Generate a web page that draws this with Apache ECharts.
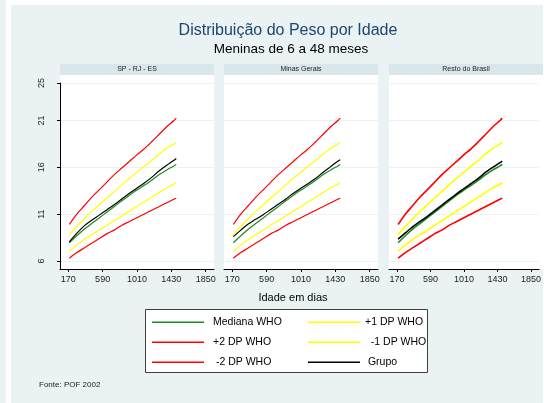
<!DOCTYPE html>
<html>
<head>
<meta charset="utf-8">
<script src="https://cdn.jsdelivr.net/npm/echarts@6/dist/echarts.min.js"></script>
<style>
html,body{margin:0;padding:0;background:#ffffff;}
#c{width:544px;height:403px;}
</style>
</head>
<body>
<div id="c"></div>
<script>
// ---- data ----
const days = [183, 274, 365, 456, 548, 639, 730, 821, 913, 1004, 1095, 1186, 1278, 1369, 1461, 1490];
const whoPlus2  = [9.9, 11.0, 11.9, 12.8, 13.6, 14.4, 15.2, 15.9, 16.6, 17.3, 17.95, 18.7, 19.5, 20.3, 21.0, 21.25];
const whoPlus1  = [8.8, 9.7, 10.5, 11.3, 12.0, 12.7, 13.4, 14.1, 14.8, 15.45, 16.1, 16.7, 17.4, 18.0, 18.5, 18.65];
const whoMedian = [7.95, 8.7, 9.4, 10.0, 10.6, 11.2, 11.8, 12.4, 13.0, 13.55, 14.05, 14.6, 15.2, 15.7, 16.15, 16.3];
const whoMinus1 = [7.05, 7.7, 8.3, 8.8, 9.3, 9.8, 10.3, 10.8, 11.3, 11.8, 12.3, 12.8, 13.3, 13.8, 14.2, 14.35];
const whoMinus2 = [6.3, 6.9, 7.4, 7.9, 8.4, 8.9, 9.3, 9.8, 10.2, 10.6, 11.0, 11.4, 11.8, 12.2, 12.6, 12.7];
const grupoSP = [8.05, 8.95, 9.75, 10.35, 10.9, 11.45, 12.0, 12.6, 13.2, 13.75, 14.3, 14.9, 15.6, 16.2, 16.75, 16.95];
const grupoMG = [8.6, 9.3, 9.95, 10.45, 10.95, 11.5, 12.05, 12.6, 13.2, 13.75, 14.25, 14.8, 15.45, 16.05, 16.65, 16.8];
const grupoRB = [8.35, 9.0, 9.65, 10.2, 10.75, 11.35, 11.95, 12.55, 13.15, 13.7, 14.25, 14.8, 15.45, 16.0, 16.5, 16.67];
const panelNames = ['SP - RJ - ES', 'Minas Gerais', 'Resto do Brasil'];
const xTicks = [170, 590, 1010, 1430, 1850];
const yTicks = [6, 11, 16, 21, 25];
const grupos = [grupoSP, grupoMG, grupoRB];

// ---- layout ----
const FONT = 'Liberation Sans, Arial, sans-serif';
const BG = '#eaf2f3';
const STRIP = '#d9e6eb';
const panelLeft = [60, 224, 389];
const panelW = 154;
const stripTop = 64, plotTop = 75, gridTop = 83, plotBottom = 269;

const toPairs = (vals) => days.map((d, i) => [d, vals[i]]);

const grids = [], xAxes = [], yAxes = [], series = [], graphics = [];

graphics.push({type:'rect', shape:{x:0, y:0, width:6, height:403}, style:{fill:BG}, silent:true, z:-10});
graphics.push({type:'rect', shape:{x:11, y:5, width:532, height:398}, style:{fill:BG}, silent:true, z:-10});

panelNames.forEach((name, p) => {
  const L = panelLeft[p];
  grids.push({left: L, top: gridTop, width: panelW, height: plotBottom - gridTop});
  graphics.push({type:'rect', shape:{x:L, y:plotTop, width:panelW, height:plotBottom - plotTop}, style:{fill:'#ffffff'}, silent:true, z:-5});
  graphics.push({type:'rect', shape:{x:L, y:stripTop, width:panelW, height:plotTop - stripTop}, style:{fill:STRIP}, silent:true, z:-5});
  graphics.push({type:'text', x: L + panelW/2, y: (stripTop + plotTop)/2, style:{text:name, font:'7px ' + FONT, fill:'#222', align:'center', verticalAlign:'middle'}, silent:true});
  xAxes.push({
    type:'value', gridIndex:p, min:69, max:1951,
    axisLine:{show:true, onZero:false, lineStyle:{color:'#000', width:1}},
    axisTick:{show:true, length:3, customValues:xTicks, lineStyle:{color:'#000'}},
    axisLabel:{show:true, customValues:xTicks, formatter:(v) => String(v), fontSize:9, fontFamily:FONT, color:'#222', margin:6},
    splitLine:{show:false}
  });
  yAxes.push({
    type:'value', gridIndex:p, min:5.15, max:25,
    axisLine:{show:p === 0, onZero:false, lineStyle:{color:'#000', width:1}},
    axisTick:{show:p === 0, length:3, customValues:yTicks, lineStyle:{color:'#000'}},
    axisLabel:{show:p === 0, customValues:yTicks, formatter:(v) => String(v), rotate:90, fontSize:9, fontFamily:FONT, color:'#222', margin:14},
    splitLine:{show:true, lineStyle:{color:BG, width:1}}
  });
  const w = p === 2 ? 1.6 : 1.2;
  const mk = (nm, vals, color, z) => ({
    type:'line', name:nm, xAxisIndex:p, yAxisIndex:p, data:toPairs(vals),
    showSymbol:false, symbol:'none', smooth:0.3, z:z,
    lineStyle:{color:color, width:w}, itemStyle:{color:color},
    emphasis:{disabled:true}, animation:false
  });
  series.push(mk('+2 DP WHO', whoPlus2, '#ff0000', 2));
  series.push(mk(' -2 DP WHO', whoMinus2, '#ff0000', 2));
  series.push(mk('+1 DP WHO', whoPlus1, '#ffff00', 3));
  series.push(mk('  -1 DP WHO', whoMinus1, '#ffff00', 3));
  series.push(mk('Mediana WHO', whoMedian, '#1e8c1e', 4));
  series.push(mk(' Grupo', grupos[p], '#000000', 5));
});

// legend box, titles, axis name, note
graphics.push({type:'rect', shape:{x:145.5, y:309.5, width:282, height:63}, style:{fill:'#ffffff', stroke:'#404040', lineWidth:1}, silent:true, z:-5});
graphics.push({type:'text', x:288, y:31, style:{text:'Distribuição do Peso por Idade', font:'16px ' + FONT, fill:'#1a476f', align:'center', verticalAlign:'middle'}, silent:true});
graphics.push({type:'text', x:291, y:49, style:{text:'Meninas de 6 a 48 meses', font:'13.5px ' + FONT, fill:'#000', align:'center', verticalAlign:'middle'}, silent:true});
graphics.push({type:'text', x:293, y:297.5, style:{text:'Idade em dias', font:'11px ' + FONT, fill:'#000', align:'center', verticalAlign:'middle'}, silent:true});
graphics.push({type:'text', x:39, y:385, style:{text:'Fonte: POF 2002', font:'8px ' + FONT, fill:'#222', align:'left', verticalAlign:'middle'}, silent:true});

const legendCommon = {
  orient:'vertical', icon:'rect', itemWidth:52, itemHeight:1.5, itemGap:7.5, padding:0,
  selectedMode:false, inactiveColor:'#000',
  textStyle:{fontSize:10.5, fontFamily:FONT, color:'#000', lineHeight:12.5}
};

const option = {
  backgroundColor:'#ffffff',
  animation:false,
  grid:grids, xAxis:xAxes, yAxis:yAxes, series:series,
  legend:[
    Object.assign({}, legendCommon, {left:152, top:316, data:['Mediana WHO', '+2 DP WHO', ' -2 DP WHO'], textStyle:Object.assign({}, legendCommon.textStyle, {padding:[0,0,0,4]})}),
    Object.assign({}, legendCommon, {left:308, top:316, data:['+1 DP WHO', '  -1 DP WHO', ' Grupo']})
  ],
  graphic:graphics
};

const chart = echarts.init(document.getElementById('c'), null, {renderer:'canvas'});
chart.setOption(option);
</script>
</body>
</html>
